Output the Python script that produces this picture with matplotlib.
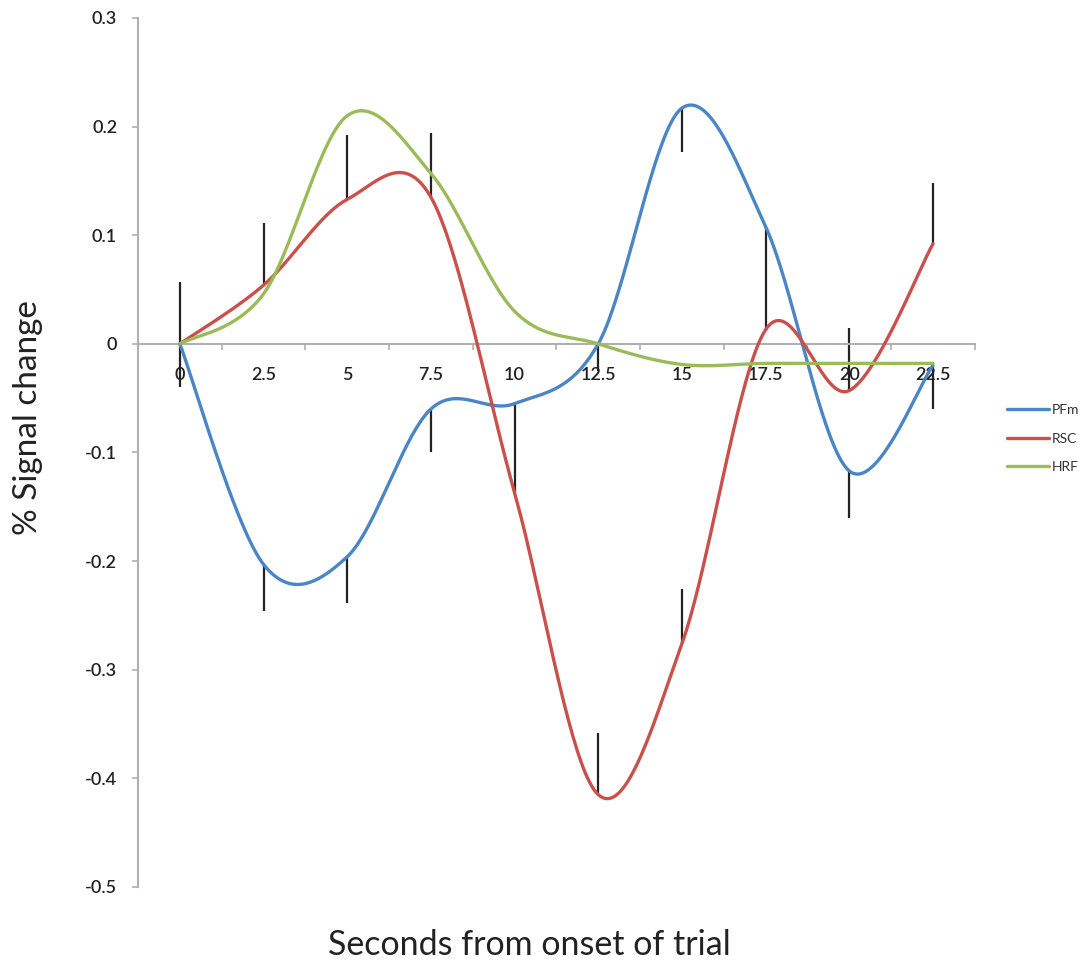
import matplotlib.pyplot as plt
import numpy as np

# seconds from onset (category axis)
seconds = [0, 2.5, 5, 7.5, 10, 12.5, 15, 17.5, 20, 22.5]
tick_labels = ['0', '2.5', '5', '7.5', '10', '12.5', '15', '17.5', '20', '22.5']

pfm = [0, -0.203, -0.196, -0.06, -0.055, 0.0, 0.217, 0.108, -0.117, -0.02]
rsc = [0, 0.054, 0.133, 0.135, -0.137, -0.415, -0.276, 0.013, -0.043, 0.092]
hrf = [0, 0.046, 0.21, 0.157, 0.03, 0.0, -0.019, -0.018, -0.018, -0.018]

# one-sided error bars: PFm drawn downward, RSC drawn upward
pfm_err = [0.04, 0.043, 0.043, 0.04, 0.035, 0.025, 0.04, 0.045, 0.043, 0.04]
rsc_err = [0.057, 0.057, 0.059, 0.059, 0.047, 0.057, 0.05, 0.05, 0.058, 0.056]

y_ticks = [-0.5, -0.4, -0.3, -0.2, -0.1, 0, 0.1, 0.2, 0.3]
y_labels = ['-0.5', '-0.4', '-0.3', '-0.2', '-0.1', '0', '0.1', '0.2', '0.3']

colors = {'PFm': '#4a86c5', 'RSC': '#c9504b', 'HRF': '#9bbb59'}


def smooth(xs, ys, n=40):
    # excel-style smoothed line (catmull-rom as cubic bezier)
    p = np.column_stack([xs, ys]).astype(float)
    ext = np.vstack([p[0], p, p[-1]])
    out = []
    t = np.linspace(0, 1, n)[:, None]
    for i in range(len(p) - 1):
        p0, p1, p2, p3 = ext[i], ext[i + 1], ext[i + 2], ext[i + 3]
        c1 = p1 + (p2 - p0) / 6
        c2 = p2 - (p3 - p1) / 6
        seg = ((1 - t) ** 3) * p1 + 3 * t * (1 - t) ** 2 * c1 + 3 * t ** 2 * (1 - t) * c2 + t ** 3 * p2
        out.append(seg if i == 0 else seg[1:])
    seg = np.vstack(out)
    return seg[:, 0], seg[:, 1]


plt.rcParams['font.family'] = ['Lato', 'DejaVu Sans']

fig = plt.figure(figsize=(10.91, 9.66), dpi=100)
ax = fig.add_axes([0.1265, 0.0818, 0.767, 0.8996])

x = np.array(seconds)
ax.vlines(x, np.array(pfm), np.array(pfm) - np.array(pfm_err), color='#222222', lw=1.6, zorder=2)
ax.vlines(x, np.array(rsc), np.array(rsc) + np.array(rsc_err), color='#222222', lw=1.6, zorder=2)

for name, vals in [('PFm', pfm), ('RSC', rsc), ('HRF', hrf)]:
    sx, sy = smooth(seconds, vals)
    ax.plot(sx, sy, color=colors[name], lw=2.4, label=name, zorder=3, solid_capstyle='round')

ax.set_xlim(-1.25, 23.75)
ax.set_ylim(-0.5, 0.3)

for s in ['top', 'right']:
    ax.spines[s].set_visible(False)
ax.spines['bottom'].set_position(('data', 0))
ax.spines['bottom'].set_color('#b0b0b0')
ax.spines['left'].set_color('#b0b0b0')
ax.spines['bottom'].set_linewidth(1.5)
ax.spines['left'].set_linewidth(1.5)

ax.set_xticks(seconds, tick_labels)
ax.set_xticks(np.arange(-1.25, 23.8, 2.5), minor=True)
ax.tick_params(axis='x', which='major', length=0, pad=17, labelsize=13, labelcolor='#222222')
ax.tick_params(axis='x', which='minor', length=4, width=1.2, color='#b0b0b0', direction='out')
for lab in ax.get_xticklabels():
    lab.set_fontweight('semibold')

ax.set_yticks(y_ticks, y_labels)
ax.tick_params(axis='y', length=4, width=1.2, color='#b0b0b0', pad=11, labelsize=13, labelcolor='#222222')
for lab in ax.get_yticklabels():
    lab.set_fontweight('semibold')

fig.text(0.026, 1 - 418 / 966, '% Signal change', rotation=90, ha='center', va='center',
         fontsize=24, color='#222222')
fig.text(0.485, 1 - 945 / 966, 'Seconds from onset of trial', ha='center', va='center',
         fontsize=24.5, color='#222222')

ax.legend(loc='center left', bbox_to_anchor=(1.024, 0.516), frameon=False, fontsize=10,
          handlelength=3.0, handletextpad=0.2, labelspacing=1.2, labelcolor='#333333')

fig.savefig('out.png', dpi=100)
